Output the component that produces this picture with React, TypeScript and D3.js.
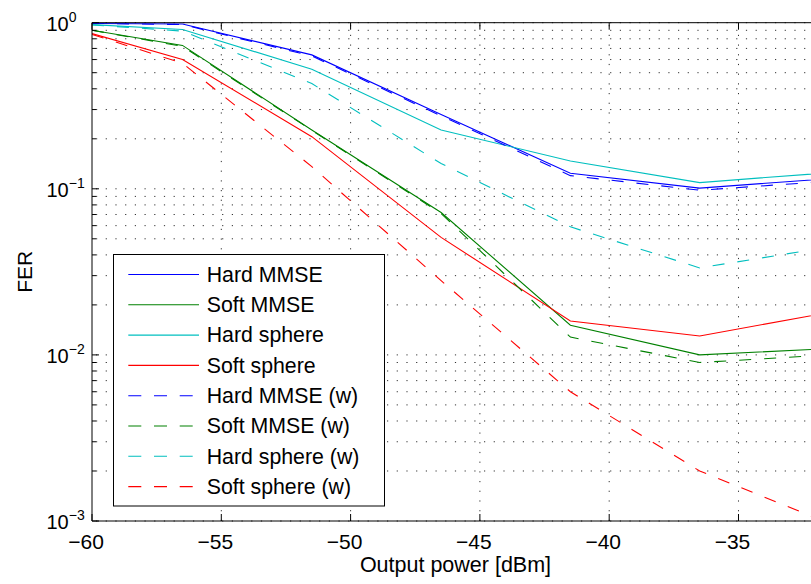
import React from "react";
import * as d3 from "d3";

const xValues = [-60, -56.5, -51.5, -46.5, -41.5, -36.5, -31.5];

const hardMMSE = [0.99, 0.982, 0.64, 0.28, 0.124, 0.101, 0.115];
const softMMSE = [0.9, 0.73, 0.226, 0.072, 0.0151, 0.01, 0.0109];
const hardSphere = [0.973, 0.91, 0.525, 0.226, 0.147, 0.109, 0.125];
const softSphere = [0.86, 0.6, 0.206, 0.051, 0.016, 0.013, 0.018];
const hardMMSEw = [0.99, 0.975, 0.63, 0.275, 0.12, 0.098, 0.111];
const softMMSEw = [0.9, 0.72, 0.225, 0.071, 0.0128, 0.009, 0.01];
const hardSpherew = [0.97, 0.89, 0.43, 0.142, 0.059, 0.0334, 0.0446];
const softSpherew = [0.85, 0.57, 0.136, 0.028, 0.006, 0.002, 0.00097];

const seriesNames = [
  "Hard MMSE",
  "Soft MMSE",
  "Hard sphere",
  "Soft sphere",
  "Hard MMSE (w)",
  "Soft MMSE (w)",
  "Hard sphere (w)",
  "Soft sphere (w)",
];
const seriesValues = [
  hardMMSE,
  softMMSE,
  hardSphere,
  softSphere,
  hardMMSEw,
  softMMSEw,
  hardSpherew,
  softSpherew,
];
const seriesColors = ["#0000ff", "#008000", "#00bfbf", "#ff0000", "#0000ff", "#008000", "#00bfbf", "#ff0000"];
const seriesDashed = [false, false, false, false, true, true, true, true];

const xTicks = [-60, -55, -50, -45, -40, -35];
const yDecades = [-3, -2, -1, 0];

const W = 811;
const H = 584;
const left = 92;
const right = 829;
const top = 22.7;
const bottom = 521;

export default function App() {
  const x = d3.scaleLinear().domain([-60, -31.5]).range([left, right]);
  const y = d3.scaleLog().domain([1e-3, 1]).range([bottom, top]);

  const line = d3
    .line<[number, number]>()
    .x((d) => x(d[0]))
    .y((d) => y(d[1]));

  const minorTicks: number[] = [];
  for (let e = -3; e < 0; e++) {
    for (let m = 1; m <= 9; m++) minorTicks.push(m * Math.pow(10, e));
  }
  minorTicks.push(1);

  const font = "'Liberation Sans', Arial, Helvetica, sans-serif";
  const legX = 113.5;
  const legY = 254.5;
  const legW = 271;
  const legH = 251.5;
  const rowH = 30.3;

  return (
    <svg
      width={W}
      height={H}
      style={{ position: "absolute", left: 0, top: 0, background: "#fff" }}
      fontFamily={font}
    >
      <rect x={0} y={0} width={W} height={H} fill="#fff" />
      <defs>
        <clipPath id="plot">
          <rect x={left} y={top} width={right - left} height={bottom - top} />
        </clipPath>
      </defs>
      {/* grid */}
      <g stroke="#333" strokeWidth={1} strokeDasharray="1.2 8.5" fill="none">
        {minorTicks.map((t, i) => (
          <line key={"h" + i} x1={left + 4} x2={right} y1={y(t)} y2={y(t)} />
        ))}
        {xTicks.slice(1).map((t) => (
          <line key={"v" + t} x1={x(t)} x2={x(t)} y1={bottom} y2={top} />
        ))}
      </g>
      {/* series */}
      <g clipPath="url(#plot)" fill="none">
        {seriesValues.map((vals, i) => (
          <path
            key={seriesNames[i]}
            d={line(vals.map((v, j) => [xValues[j], v] as [number, number])) || ""}
            stroke={seriesColors[i]}
            strokeWidth={1.1}
            strokeDasharray={seriesDashed[i] ? "12 13" : undefined}
          />
        ))}
      </g>
      {/* axes */}
      <g stroke="#000" strokeWidth={1} fill="none">
        <line x1={left} x2={W} y1={bottom} y2={bottom} />
        <line x1={left} x2={W} y1={top} y2={top} />
        <line x1={left} x2={left} y1={top} y2={bottom} />
        {xTicks.map((t) => (
          <g key={"xt" + t}>
            <line x1={x(t)} x2={x(t)} y1={bottom} y2={bottom - 7} />
            <line x1={x(t)} x2={x(t)} y1={top} y2={top + 7} />
          </g>
        ))}
        {minorTicks.map((t, i) => {
          const major = Math.abs(Math.log10(t) - Math.round(Math.log10(t))) < 1e-9;
          return <line key={"yt" + i} x1={left} x2={left + (major ? 7 : 4)} y1={y(t)} y2={y(t)} />;
        })}
      </g>
      {/* x tick labels */}
      <g fontSize={21} textAnchor="middle" fill="#000">
        {xTicks.map((t) => (
          <text key={"xl" + t} x={x(t) - 6} y={548.5}>
            {"\u2212" + Math.abs(t)}
          </text>
        ))}
      </g>
      {/* y tick labels */}
      <g fill="#000">
        {yDecades.map((e) => (
          <text key={"yl" + e} x={46.5} y={y(Math.pow(10, e)) + 8} fontSize={20}>
            10
            <tspan fontSize={14} dy={-9}>
              {e < 0 ? "\u2212" + Math.abs(e) : String(e)}
            </tspan>
          </text>
        ))}
      </g>
      <text x={455.5} y={572} fontSize={21.5} textAnchor="middle" fill="#000">
        Output power [dBm]
      </text>
      <text
        transform={`translate(31.5, ${(top + bottom) / 2}) rotate(-90)`}
        fontSize={21}
        textAnchor="middle"
        fill="#000"
      >
        FER
      </text>
      {/* legend */}
      <g>
        <rect x={legX} y={legY} width={legW} height={legH} fill="#fff" stroke="#000" strokeWidth={1} />
        {seriesNames.map((name, i) => {
          const cy = legY + 20 + i * rowH;
          return (
            <g key={"lg" + name}>
              <line
                x1={128.3}
                x2={199}
                y1={cy}
                y2={cy}
                stroke={seriesColors[i]}
                strokeWidth={1.1}
                strokeDasharray={seriesDashed[i] ? "13 12.7" : undefined}
              />
              <text x={206.7} y={cy + 7.3} fontSize={21.3} fill="#000">
                {name}
              </text>
            </g>
          );
        })}
      </g>
    </svg>
  );
}
